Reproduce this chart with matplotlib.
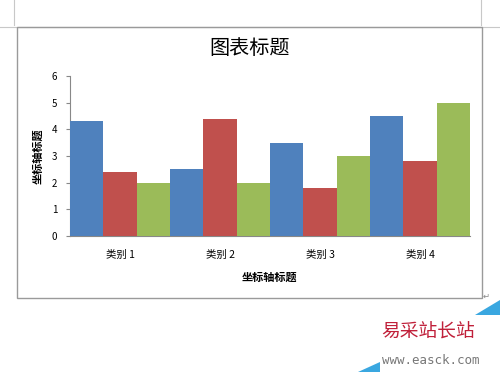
import numpy as np
import matplotlib.pyplot as plt
from matplotlib.patches import Rectangle, Polygon

plt.rcParams['font.family'] = ['Noto Sans CJK SC', 'DejaVu Sans']

# Datos del gráfico
categorias = ['类别 1', '类别 2', '类别 3', '类别 4']
serie1 = [4.3, 2.5, 3.5, 4.5]
serie2 = [2.4, 4.4, 1.8, 2.8]
serie3 = [2.0, 2.0, 3.0, 5.0]
colores = ['#4F81BD', '#C0504D', '#9BBB59']
yticks = [0, 1, 2, 3, 4, 5, 6]

fig = plt.figure(figsize=(5, 3.75), dpi=100)

# Marco del gráfico y marcas de la página
fig.add_artist(Rectangle((0.034, 0.2053), 0.93, 0.7227, transform=fig.transFigure,
                         fill=False, ec='#9a9a9a', lw=1.0))
fig.add_artist(plt.Line2D([0, 1], [1 - 27/375, 1 - 27/375], transform=fig.transFigure,
                          color='#c8c8c8', lw=0.8, zorder=0))
for xp in [14/500, 481/500]:
    fig.add_artist(plt.Line2D([xp, xp], [1 - 25/375, 1], transform=fig.transFigure,
                              color='#c8c8c8', lw=0.8))

ax = fig.add_axes([0.14, 0.3707, 0.8, 0.4267])
x = np.arange(len(categorias))
w = 1/3
for k, serie in enumerate([serie1, serie2, serie3]):
    ax.bar(x + (k - 1) * w, serie, width=w, color=colores[k], zorder=3)

ax.set_xlim(-0.5, 3.5)
ax.set_ylim(0, 6)
ax.set_yticks(yticks)
ax.set_xticks(x)
ax.set_xticklabels(categorias, fontsize=7.5)
ax.tick_params(axis='y', labelsize=7, length=3, color='#888888', pad=6)
ax.tick_params(axis='x', length=0, pad=10)
for s in ['top', 'right']:
    ax.spines[s].set_visible(False)
ax.spines['left'].set_color('#888888')
ax.spines['bottom'].set_color('#888888')

fig.text(0.5, 1 - 48/375, '图表标题', ha='center', va='center', fontsize=14.5,
         fontweight='medium')
fig.text(0.54, 1 - 277/375, '坐标轴标题', ha='center', va='center',
         fontsize=8, fontweight='bold')
fig.text(0.076, 1 - 156/375, '坐标轴标题', ha='center', va='center',
         fontsize=8, fontweight='bold', rotation=90)
fig.text(0.972, 1 - 296/375, '↵', ha='center', va='center', fontsize=6, color='#888888')

# Marca de agua
fig.add_artist(Polygon([[475/500, 1 - 315/375], [500/500, 1 - 300/375], [500/500, 1 - 315/375]],
                       transform=fig.transFigure, closed=True, fc='#3aa7e0', ec='none'))
fig.add_artist(Polygon([[358/500, 1 - 372/375], [380/500, 1 - 362/375], [380/500, 1 - 372/375]],
                       transform=fig.transFigure, closed=True, fc='#3aa7e0', ec='none'))
fig.text(0.762, 1 - 332/375, '易采站长站', ha='left', va='center', fontsize=13.5,
         color='#c0203a')
fig.text(0.765, 1 - 360/375, 'www.easck.com', ha='left', va='center', fontsize=9,
         color='#777777', family='DejaVu Sans Mono')

fig.savefig('out.png', dpi=100)
